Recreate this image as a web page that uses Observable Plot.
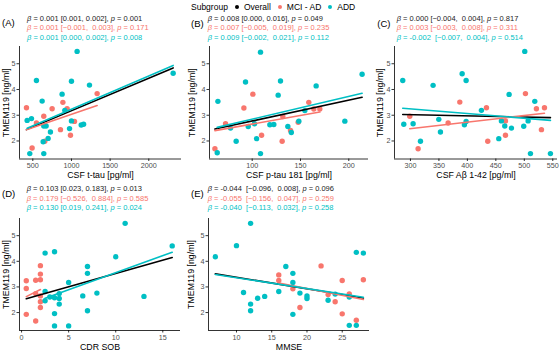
<!DOCTYPE html>
<html><head><meta charset="utf-8">
<script src="https://cdn.jsdelivr.net/npm/d3@7"></script>
<script src="https://cdn.jsdelivr.net/npm/@observablehq/plot@0.6"></script>
<style>
html,body{margin:0;padding:0;background:#fff;overflow:hidden;}
#root{position:relative;width:560px;height:351px;font-family:"Liberation Sans",Arial,Helvetica,sans-serif;overflow:hidden;}
.abs{position:absolute;white-space:pre;}
.stats{font-size:7.5px;line-height:9.2px;}
.tag{font-size:9.5px;line-height:10px;color:#000;}
.legend{font-size:8.5px;line-height:10px;display:flex;align-items:center;color:#000;}
.legend .dot{display:inline-block;width:4px;height:4px;border-radius:50%;margin:0 5px 0 7px;}
</style></head>
<body><div id="root"></div>
<script>
const groups = ["Overall", "MCI - AD", "ADD"];
const colors = ["#000000", "#F8766D", "#00BFC4"];
const yTicks = [2, 3, 4, 5];
const yLabel = "TMEM119 [ng/ml]";

// (A) CSF t-tau
const tTauMCI = [418, 889, 750, 944, 1332, 642, 547, 1039, 858, 987, 655, 491];
const tTauMCI_T = [3.29, 3.50, 3.25, 3.25, 3.84, 2.96, 2.70, 2.76, 2.44, 2.22, 1.99, 1.73];
const tTauADD = [1073, 547, 1000, 1233, 2315, 879, 621, 914, 427, 483, 1000, 642, 672, 728, 698, 1126, 1157, 975, 634, 461, 642];
const tTauADD_T = [5.48, 4.35, 4.32, 4.17, 4.63, 3.82, 3.55, 3.19, 2.80, 2.87, 2.78, 2.58, 2.58, 2.35, 2.10, 2.62, 2.65, 2.48, 1.97, 1.51, 1.51];
const tTauTicks = [500, 1000, 1500, 2000];

// (B) CSF p-tau 181
const pTauMCI = [61.4, 72.4, 91.4, 100.7, 109.7, 131, 131.7, 139.7, 147.6, 158.6, 163.8, 170];
const pTauMCI_T = [1.70, 2.67, 3.28, 3.82, 2.22, 1.99, 2.95, 2.41, 2.73, 3.50, 3.24, 3.24];
const pTauADD = [64.5, 63.8, 77.6, 83.4, 93.1, 95.9, 102.4, 104.5, 108.6, 108.6, 118.3, 122.4, 126.9, 129.3, 136.9, 140.5, 154.5, 148.3, 166.2, 195.9, 213.8];
const pTauADD_T = [3.54, 1.54, 2.50, 1.99, 4.29, 2.56, 2.67, 2.09, 5.45, 1.51, 2.63, 2.64, 3.78, 4.33, 2.56, 2.33, 3.18, 2.77, 4.14, 2.77, 4.59];
const pTauTicks = [100, 150, 200];

// (C) CSF Aβ 1-42
const abMCI = [298.8, 313.5, 366.2, 386.7, 433.5, 435.8, 466.9, 466.9, 502, 521.3, 535.4, 530.1];
const abMCI_T = [2.96, 1.70, 2.70, 3.51, 3.29, 1.99, 2.78, 2.22, 3.84, 3.25, 3.29, 2.44];
const abADD = [286.5, 288.3, 304.7, 317.6, 339.8, 349.8, 352.7, 390.8, 397.8, 394.8, 397.8, 424.7, 455.2, 459.8, 465.7, 473.3, 477.4, 499, 500.8, 506.7, 510.8, 518.4, 545.9];
const abADD_T = [4.35, 2.65, 2.67, 1.99, 4.16, 2.84, 2.35, 4.61, 4.35, 2.63, 2.76, 3.19, 2.09, 2.78, 2.58, 3.81, 2.50, 2.57, 5.48, 2.78, 1.51, 3.54, 1.51];
const abTicks = [300, 350, 400, 450, 500, 550];

// (D) CDR SOB
const cdrMCI = [0.5, 0.5, 0.5, 1.5, 1.5, 2, 2, 2, 2, 2, 2, 1.5];
const cdrMCI_T = [3.24, 2.94, 1.93, 3.26, 1.67, 3.83, 3.50, 3.28, 2.65, 2.42, 2.20, 2.74];
const cdrADD = [2.5, 3.5, 2.5, 2.5, 3, 3.5, 4, 4, 4, 3.5, 3.5, 5, 5, 6.5, 7, 7, 7, 8, 10, 11, 13, 16];
const cdrADD_T = [4.32, 4.37, 2.82, 2.46, 2.61, 2.58, 2.74, 2.55, 2.33, 1.96, 1.48, 1.48, 3.17, 2.65, 3.80, 3.53, 2.07, 2.76, 4.18, 5.48, 2.63, 4.60];
const cdrTicks = [0, 5, 10, 15];

// (E) MMSE
const mmseMCI = [16, 16, 18, 19, 22, 23, 24, 25, 25, 26, 27, 28];
const mmseMCI_T = [3.47, 3.25, 2.93, 2.20, 3.82, 2.70, 2.42, 3.25, 1.95, 2.73, 1.70, 3.28];
const mmseADD = [7, 10, 12, 11, 12, 12, 13, 14, 17, 16, 18, 18, 18, 19, 20, 20, 23, 24, 26, 27, 28, 26, 27];
const mmseADD_T = [4.18, 4.61, 5.48, 2.78, 2.33, 2.07, 2.56, 2.63, 3.80, 2.82, 3.53, 3.17, 1.93, 2.76, 2.65, 2.55, 2.48, 2.72, 2.61, 4.35, 4.32, 1.50, 1.50];
const mmseTicks = [10, 15, 20, 25];

const statsA = ["0.001 [0.001, 0.002], ", "0.001", "0.001 [−0.001,  0.003], ", "0.171", "0.001 [0.000, 0.002], ", "0.008"];
const statsB = ["0.008 [0.000, 0.016], ", "0.049", "0.007 [−0.005,  0.019], ", "0.235", "0.009 [−0.002,  0.021], ", "0.112"];
const statsC = ["0.000 [−0.004,  0.004], ", "0.817", "0.003 [−0.003,  0.008], ", "0.311", "-0.002  [−0.007,  0.004], ", "0.514"];
const statsD = ["0.103 [0.023, 0.183], ", "0.013", "0.179 [−0.526,  0.884], ", "0.585", "0.130 [0.019, 0.241], ", "0.024"];
const statsE = ["-0.044  [−0.096,  0.008], ", "0.096", "-0.055  [−0.156,  0.047], ", "0.259", "-0.040  [−0.113,  0.032], ", "0.258"];

const root = document.getElementById("root");
const FONT = '"Liberation Sans",Arial,Helvetica,sans-serif';
const yDomain = [1.3, 5.67];
const fmt = d3.format("d");

function addDiv(cls, x, y, html, color) {
  const d = document.createElement("div");
  d.className = "abs " + cls;
  d.style.left = x + "px";
  d.style.top = y + "px";
  if (color) d.style.color = color;
  d.innerHTML = html;
  root.appendChild(d);
  return d;
}

function panel(cfg) {
  const data = [];
  cfg.mx.forEach((v, i) => data.push({x: v, y: cfg.my[i], g: "MCI - AD"}));
  cfg.ax.forEach((v, i) => data.push({x: v, y: cfg.ay[i], g: "ADD"}));
  const [L, T, R, B] = cfg.frame;
  const mL = 28, mT = 6, mR = 3, mB = 28;
  const chart = Plot.plot({
    width: R - L + mL + mR,
    height: B - T + mT + mB,
    marginLeft: mL, marginTop: mT, marginRight: mR, marginBottom: mB,
    style: {fontFamily: FONT, background: "transparent", overflow: "visible"},
    x: {domain: cfg.xDomain},
    y: {domain: yDomain},
    color: {domain: groups, range: colors},
    marks: [
      Plot.axisX({ticks: cfg.ticks, tickFormat: fmt, tickSize: 2.5, tickPadding: 1.5, fontSize: 7.2, stroke: "#333", fill: "#4d4d4d", label: null}),
      Plot.axisY({ticks: yTicks, tickFormat: fmt, tickSize: 2.5, tickPadding: 1.5, fontSize: 7.2, stroke: "#333", fill: "#4d4d4d", label: null}),
      Plot.ruleX([cfg.xDomain[0]], {stroke: "#000", strokeWidth: 0.8}),
      Plot.ruleY([yDomain[0]], {stroke: "#000", strokeWidth: 0.8}),
      Plot.text([cfg.label], {frameAnchor: "bottom", lineAnchor: "middle", textAnchor: "middle", dy: cfg.xTitleDy, fontSize: 8.8, fill: "#000"}),
      Plot.text([yLabel], {frameAnchor: "left", lineAnchor: "middle", textAnchor: "middle", rotate: -90, dx: cfg.yTitleDx, fontSize: 8.8, fill: "#000"}),
      Plot.dot(data, {x: "x", y: "y", fill: "g", r: 2.7}),
      Plot.linearRegressionY(data, {x: "x", y: "y", stroke: "black", ci: 0, strokeWidth: 1.6}),
      Plot.linearRegressionY(data, {x: "x", y: "y", stroke: "g", ci: 0, strokeWidth: 1.6})
    ]
  });
  chart.style.position = "absolute";
  chart.style.left = (L - mL) + "px";
  chart.style.top = (T - mT) + "px";
  root.appendChild(chart);

  addDiv("tag", cfg.tagPos[0], cfg.tagPos[1] - 5, cfg.tag);
  const s = cfg.stats;
  const lineCols = ["#222", colors[1], colors[2]];
  let html = "";
  for (let i = 0; i < 3; i++) {
    html += `<div style="color:${lineCols[i]}"><i>β</i> = ${s[2*i]}<i>p</i> = ${s[2*i+1]}</div>`;
  }
  addDiv("stats", cfg.statsPos[0], cfg.statsPos[1] - 4.6, html);
}

panel({mx: tTauMCI, my: tTauMCI_T, ax: tTauADD, ay: tTauADD_T, ticks: tTauTicks, label: "CSF t-tau [pg/ml]",
  xDomain: [328, 2423], frame: [19, 46, 181, 158.5], xTitleDy: 15.8, yTitleDx: -13,
  tag: "(A)", tagPos: [2, 23.3], stats: statsA, statsPos: [27, 18.7]});
panel({mx: pTauMCI, my: pTauMCI_T, ax: pTauADD, ay: pTauADD_T, ticks: pTauTicks, label: "CSF p-tau 181 [pg/ml]",
  xDomain: [55.8, 220.4], frame: [209, 46, 368, 158.5], xTitleDy: 15.8, yTitleDx: -17,
  tag: "(B)", tagPos: [191, 24], stats: statsB, statsPos: [207.7, 18.7]});
panel({mx: abMCI, my: abMCI_T, ax: abADD, ay: abADD_T, ticks: abTicks, label: "CSF Aβ 1-42 [pg/ml]",
  xDomain: [272, 558.3], frame: [394, 46, 557, 158.5], xTitleDy: 15.8, yTitleDx: -14,
  tag: "(C)", tagPos: [377.3, 24], stats: statsC, statsPos: [396.7, 18.7]});
panel({mx: cdrMCI, my: cdrMCI_T, ax: cdrADD, ay: cdrADD_T, ticks: cdrTicks, label: "CDR SOB",
  xDomain: [-0.22, 16.88], frame: [19, 218, 180, 330], xTitleDy: 16.7, yTitleDx: -13,
  tag: "(D)", tagPos: [2, 194], stats: statsD, statsPos: [26.7, 189]});
panel({mx: mmseMCI, my: mmseMCI_T, ax: mmseADD, ay: mmseADD_T, ticks: mmseTicks, label: "MMSE",
  xDomain: [6.03, 28.87], frame: [208, 218, 369, 330], xTitleDy: 16.7, yTitleDx: -17,
  tag: "(E)", tagPos: [191, 194], stats: statsE, statsPos: [207.7, 189]});

const leg = addDiv("legend", 191, 1.7, "");
let lh = `<span>Subgroup</span>`;
groups.forEach((g, i) => {
  lh += `<span class="dot" style="background:${colors[i]}"></span><span>${g}</span>`;
});
leg.innerHTML = lh;
</script></body></html>
